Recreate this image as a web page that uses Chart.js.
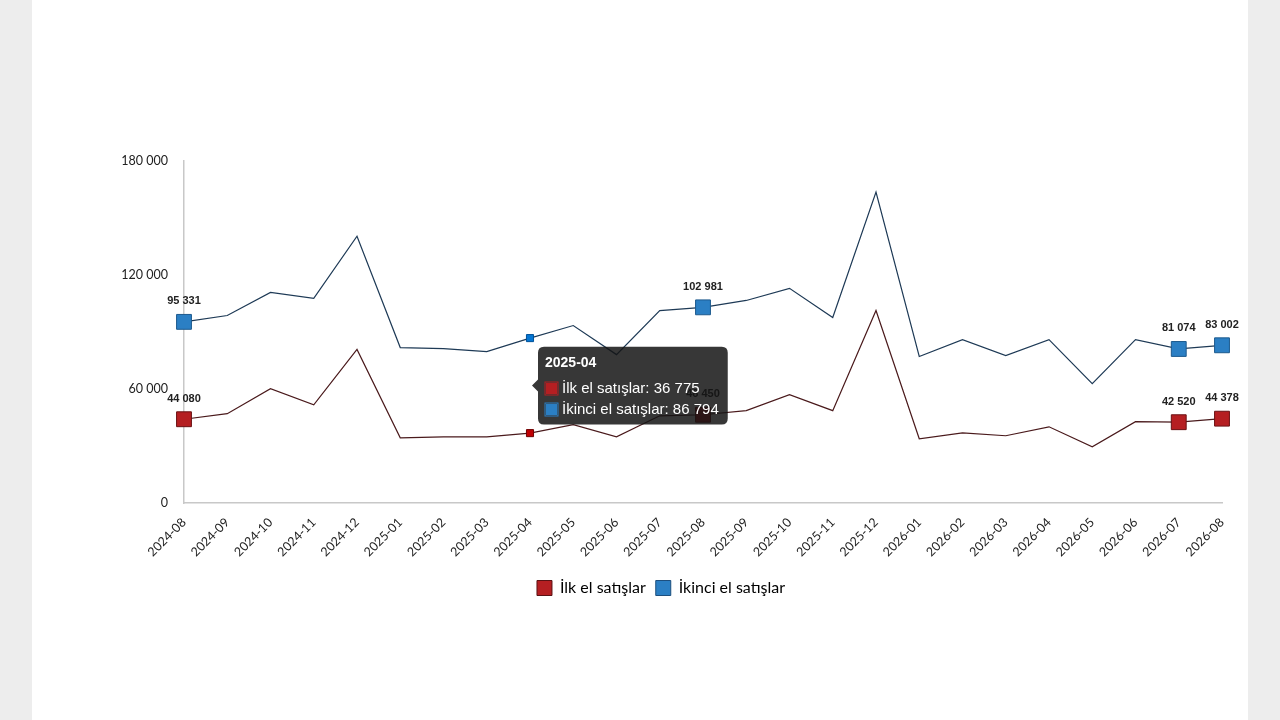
<!DOCTYPE html>
<html>
<head>
<meta charset="utf-8">
<script src="https://cdn.jsdelivr.net/npm/chart.js@4.4.0/dist/chart.umd.min.js"></script>
<style>
  html, body { margin: 0; padding: 0; width: 1280px; height: 720px; overflow: hidden; background: #ededed; }
  .panel { position: absolute; left: 32px; top: 0; width: 1216px; height: 720px; background: #ffffff; }
  .wrap { position: absolute; left: 0; top: 0; width: 1280px; height: 720px; }
</style>
</head>
<body>
<div class="panel"></div>
<div class="wrap"><canvas id="chart" width="1280" height="720"></canvas></div>
<script>
const months = ['2024-08', '2024-09', '2024-10', '2024-11', '2024-12',
  '2025-01', '2025-02', '2025-03', '2025-04', '2025-05', '2025-06', '2025-07',
  '2025-08', '2025-09', '2025-10', '2025-11', '2025-12',
  '2026-01', '2026-02', '2026-03', '2026-04', '2026-05', '2026-06', '2026-07', '2026-08']

const ilkEl = [44080, 47000, 60200, 51700, 80800, 34300, 34800, 34800, 36775, 41200,
  34800, 45900, 46450, 48600, 57000, 48600, 101300, 33800, 36900, 35400, 40100,
  29600, 42800, 42520, 44378]

const ikinciEl = [95331, 98700, 110800, 107700, 140400, 81800, 81300, 79700, 86794, 93400,
  78100, 101300, 102981, 106600, 113000, 97600, 163600, 77100, 86000, 77600, 86000,
  62800, 86000, 81074, 83002]

const yTicks = [0, 60000, 120000, 180000]
const labelled = [0, 12, 23, 24]
const hoverIndex = 8

const fmt = v => Math.round(v).toString().replace(/\B(?=(\d{3})+(?!\d))/g, ' ')
const radii = months.map((m, i) => labelled.includes(i) ? 10.5 : 0)

// value labels above the marked points
const valueLabels = {
  id: 'valueLabels',
  afterDatasetsDraw(chart) {
    const ctx = chart.ctx
    ctx.save()
    ctx.font = 'bold 11px "Liberation Sans", Arial, sans-serif'
    ctx.fillStyle = '#222'
    ctx.textAlign = 'center'
    ctx.textBaseline = 'bottom'
    chart.data.datasets.forEach((ds, di) => {
      const meta = chart.getDatasetMeta(di)
      labelled.forEach(i => {
        const p = meta.data[i]
        ctx.fillText(fmt(ds.data[i]), p.x, p.y - 15)
      })
    })
    ctx.restore()
  }
}

Chart.defaults.font.family = 'Lato, "DejaVu Sans", sans-serif'
Chart.defaults.color = '#222'

const chart = new Chart(document.getElementById('chart'), {
  type: 'line',
  data: {
    labels: months,
    datasets: [
      {
        label: 'İlk el satışlar',
        data: ilkEl,
        borderColor: '#4a1a1c',
        borderWidth: 1.2,
        backgroundColor: '#b51f22',
        pointBackgroundColor: '#b51f22',
        pointBorderColor: '#6a1214',
        pointStyle: 'rect',
        pointRadius: radii,
        pointHoverRadius: 5,
        pointBorderWidth: 1,
        pointHoverBorderWidth: 1,
        tension: 0
      },
      {
        label: 'İkinci el satışlar',
        data: ikinciEl,
        borderColor: '#1e3a56',
        borderWidth: 1.2,
        backgroundColor: '#2b7fc4',
        pointBackgroundColor: '#2b7fc4',
        pointBorderColor: '#1d5a8e',
        pointStyle: 'rect',
        pointRadius: radii,
        pointHoverRadius: 5,
        pointBorderWidth: 1,
        pointHoverBorderWidth: 1,
        tension: 0
      }
    ]
  },
  options: {
    responsive: false,
    animation: false,
    events: [],
    layout: { padding: { left: 100, right: 58, top: 161, bottom: 114 } },
    scales: {
      x: {
        grid: { display: false, drawTicks: false },
        border: { color: '#c8c8c8', width: 1.5 },
        ticks: { minRotation: 45, maxRotation: 45, autoSkip: false, padding: 12,
          font: { size: 12.5 }, color: '#222' },
        afterFit: s => { s.height = 67 }
      },
      y: {
        min: 0,
        max: 180000,
        afterBuildTicks: s => { s.ticks = yTicks.map(v => ({ value: v })) },
        grid: { display: false, drawTicks: false },
        border: { color: '#c8c8c8', width: 1.5 },
        ticks: { padding: 16, font: { size: 12.5 }, color: '#222', callback: v => fmt(v) },
        afterFit: s => { s.width = 84 }
      }
    },
    plugins: {
      legend: {
        position: 'bottom',
        labels: {
          boxWidth: 15, boxHeight: 15, padding: 10,
          font: { size: 16 }, color: '#333',
          generateLabels: ch => ch.data.datasets.map((ds, i) => ({
            text: ds.label,
            fillStyle: ds.backgroundColor,
            strokeStyle: i === 0 ? '#5a1214' : '#1d4f7e',
            lineWidth: 1,
            datasetIndex: i
          }))
        }
      },
      tooltip: {
        backgroundColor: 'rgba(20,20,20,0.85)',
        titleFont: { size: 14, weight: 'bold', family: '"Liberation Sans", Arial, sans-serif' },
        bodyFont: { size: 15, family: '"Liberation Sans", Arial, sans-serif' },
        titleColor: '#fff',
        bodyColor: '#fff',
        multiKeyBackground: 'rgba(0,0,0,0)',
        padding: { left: 7, right: 9, top: 8, bottom: 6 },
        titleMarginBottom: 8,
        bodySpacing: 3,
        cornerRadius: 6,
        boxWidth: 13,
        boxHeight: 13,
        boxPadding: 2,
        caretSize: 6,
        callbacks: {
          label: c => c.dataset.label + ': ' + fmt(c.parsed.y),
          labelColor: c => ({ borderColor: c.dataset.backgroundColor, backgroundColor: c.dataset.backgroundColor, borderWidth: 1 })
        }
      }
    }
  },
  plugins: [valueLabels]
})

const active = [{ datasetIndex: 0, index: hoverIndex }, { datasetIndex: 1, index: hoverIndex }]
chart.setActiveElements(active)
const m0 = chart.getDatasetMeta(0).data[hoverIndex]
chart.tooltip.setActiveElements(active, { x: m0.x, y: m0.y })
chart.update('none')
</script>
</body>
</html>
